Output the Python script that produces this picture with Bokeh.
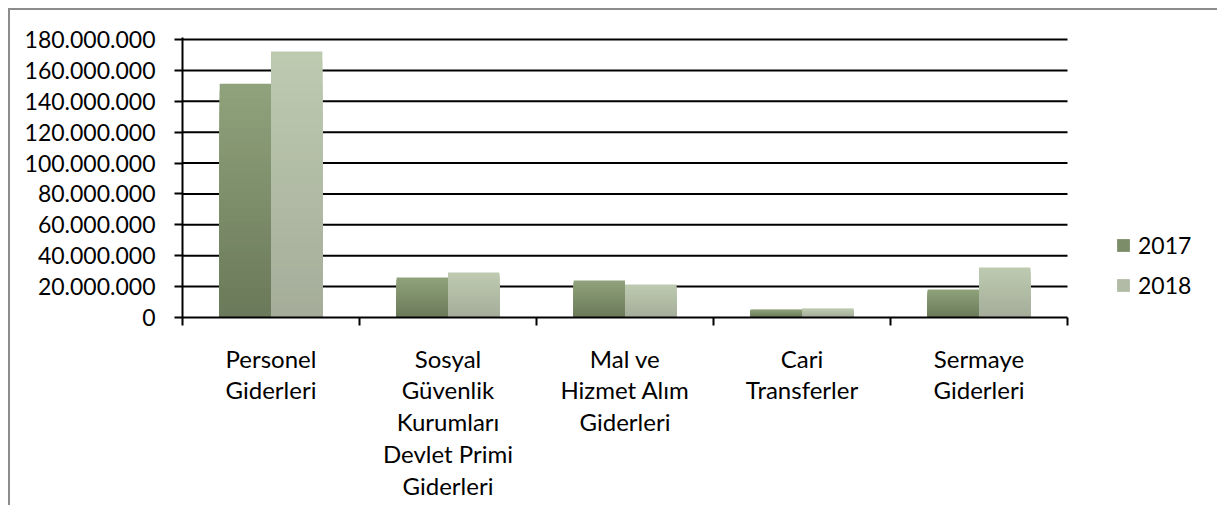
from bokeh.plotting import figure
from bokeh.models import FixedTicker, Range1d, ColumnDataSource, Legend, LegendItem
from bokeh.embed import file_html
from bokeh.resources import INLINE

# ---- data ----
categories = [
    "Personel\nGiderleri",
    "Sosyal\nGüvenlik\nKurumları\nDevlet Primi\nGiderleri",
    "Mal ve\nHizmet Alım\nGiderleri",
    "Cari\nTransferler",
    "Sermaye\nGiderleri",
]
series_names = ["2017", "2018"]
values_2017 = [151_300_000, 25_900_000, 23_900_000, 5_200_000, 18_100_000]
values_2018 = [172_200_000, 29_100_000, 21_400_000, 5_800_000, 32_400_000]
y_ticks = [0, 20_000_000, 40_000_000, 60_000_000, 80_000_000, 100_000_000,
           120_000_000, 140_000_000, 160_000_000, 180_000_000]
y_tick_labels = ["0", "20.000.000", "40.000.000", "60.000.000", "80.000.000",
                 "100.000.000", "120.000.000", "140.000.000", "160.000.000",
                 "180.000.000"]

# ---- style ----
FONT = "Lato"
FS_Y = "23px"
FS = "24px"
COL_2017 = ("#8fa27b", "#6b7a5a")   # top, bottom
COL_2018 = ("#bdcab0", "#a5ad9a")
BAR_W = 0.29
N_STRIPS = 32
N_CAT = len(categories)
X_END = N_CAT * 1037 / 885   # frame continues right to hold the legend


def _hex(c):
    c = c.lstrip("#")
    return tuple(int(c[i:i + 2], 16) for i in (0, 2, 4))


def _lerp(c1, c2, t):
    a, b = _hex(c1), _hex(c2)
    return "#%02x%02x%02x" % tuple(round(a[i] + (b[i] - a[i]) * t) for i in range(3))


def gradient_source(vals, offset, cols):
    xs, tops, fills = [], [], []
    for k in range(N_STRIPS):
        frac = 1 - k / N_STRIPS
        col = _lerp(cols[0], cols[1], k / (N_STRIPS - 1))
        for i, v in enumerate(vals):
            xs.append(i + 0.5 + offset)
            tops.append(v * frac)
            fills.append(col)
    return ColumnDataSource(dict(x=xs, top=tops, fill=fills))


p = figure(width=1209, height=497, output_backend="svg", toolbar_location=None,
           x_range=Range1d(0, X_END), y_range=Range1d(0, 181_300_000),
           min_border_left=172, min_border_right=0, min_border_top=27,
           min_border_bottom=190)
p.styles = {"margin-left": "8px", "margin-top": "8px",
            "border-left": "2px solid #8c8c8c", "border-top": "2px solid #8c8c8c"}
p.outline_line_color = None
p.background_fill_color = "white"
p.border_fill_color = "white"

# horizontal gridlines, limited to the category area
p.xgrid.visible = False
p.ygrid.visible = False
p.segment(x0=0, x1=N_CAT, y0=y_ticks[1:], y1=y_ticks[1:],
          line_color="black", line_width=2, level="underlay")

r1 = p.vbar(x="x", top="top", bottom=0, width=BAR_W, fill_color="fill",
            line_color=None, source=gradient_source(values_2017, -BAR_W / 2, COL_2017))
r2 = p.vbar(x="x", top="top", bottom=0, width=BAR_W, fill_color="fill",
            line_color=None, source=gradient_source(values_2018, BAR_W / 2, COL_2018))

# x axis: labels at centers, ticks at boundaries
xa = p.xaxis[0]
xa.bounds = (0, N_CAT)
xa.ticker = FixedTicker(ticks=[i + 0.5 for i in range(N_CAT)],
                        minor_ticks=list(range(N_CAT + 1)))
xa.major_label_overrides = {i + 0.5: c for i, c in enumerate(categories)}
xa.major_tick_out = 0
xa.major_tick_in = 0
xa.minor_tick_out = 8
xa.minor_tick_in = 0
xa.minor_tick_line_color = "black"
xa.minor_tick_line_width = 2
xa.axis_line_color = "black"
xa.axis_line_width = 2
xa.major_label_text_font = FONT
xa.major_label_text_font_size = FS
xa.major_label_text_color = "black"
xa.major_label_text_line_height = 1.1
xa.major_label_standoff = 18
xa.major_label_orientation = "horizontal"

ya = p.yaxis[0]
ya.ticker = FixedTicker(ticks=y_ticks, minor_ticks=[])
ya.major_label_overrides = {t: l for t, l in zip(y_ticks, y_tick_labels)}
ya.major_tick_out = 8
ya.major_tick_in = 0
ya.major_tick_line_color = "black"
ya.major_tick_line_width = 2
ya.minor_tick_out = 0
ya.minor_tick_in = 0
ya.axis_line_color = "black"
ya.axis_line_width = 2
ya.major_label_text_font = FONT
ya.major_label_text_font_size = FS_Y
ya.major_label_text_color = "black"
ya.major_label_standoff = 19

mid = (N_STRIPS // 2) * N_CAT
legend = Legend(items=[LegendItem(label=series_names[0], renderers=[r1], index=mid),
                       LegendItem(label=series_names[1], renderers=[r2], index=mid)],
                location=(933, 18), orientation="vertical",
                glyph_width=16, glyph_height=16, label_standoff=7, spacing=12,
                padding=0, margin=0, border_line_color=None,
                background_fill_alpha=0, label_text_font=FONT,
                label_text_font_size=FS_Y, label_text_color="black")
p.add_layout(legend)

open("out.html", "w").write(file_html(p, INLINE))
